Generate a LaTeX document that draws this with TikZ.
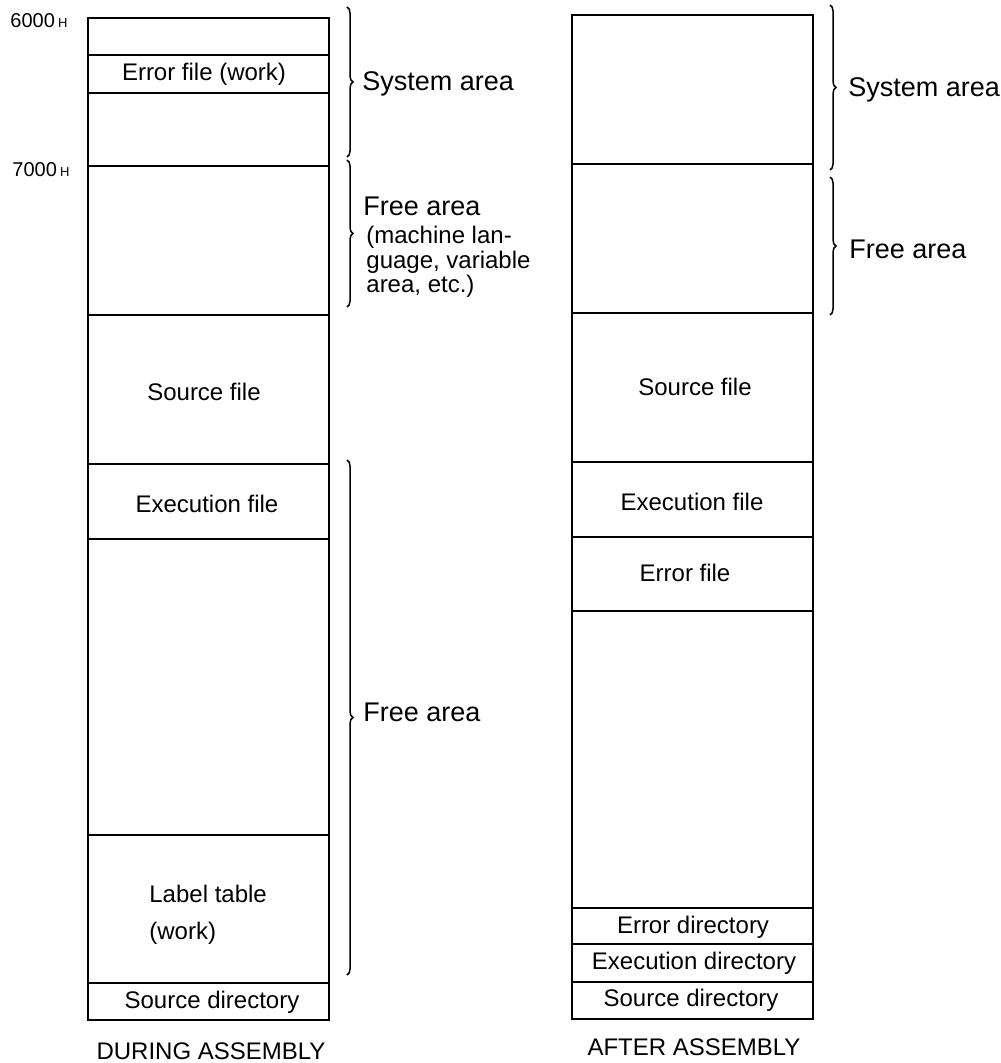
\documentclass[tikz,border=0pt]{standalone}
\usepackage{fontspec}
\setmainfont{Liberation Sans}
\usetikzlibrary{decorations.pathreplacing}
\begin{document}
\begin{tikzpicture}[x=0.5pt,y=-0.5pt,
  wall/.style={line width=0.75pt},
  lbl/.style={font=\fontsize{12}{14}\selectfont, inner sep=0pt},
  area/.style={font=\fontsize{13.5}{16}\selectfont, anchor=west, inner sep=0pt},
  note/.style={font=\fontsize{12}{10.5}\selectfont, anchor=west, align=left, inner sep=0pt},
  addr/.style={font=\fontsize{10}{12}\selectfont, anchor=base west, inner sep=0pt},
  curly/.style={decorate, decoration={brace, amplitude=3pt}, line width=0.75pt},
]
\useasboundingbox (0,0) rectangle (1000,1063);

% ---- memory map during assembly ----
\draw[wall] (88,18) rectangle (329,1020);
\foreach \y in {55,93,166,315,464,539,835,983}
  \draw[wall] (88,\y) -- (329,\y);

\node[addr] (a6000) at (10,28) {6000\,{\fontsize{6.5}{7}\selectfont H}};
\node[addr] (a7000) at (12,177) {7000\,{\fontsize{6.5}{7}\selectfont H}};

\node[lbl] (errw)  at (204,74)  {Error file (work)};
\node[lbl] (srcL)  at (204,392) {Source file};
\node[lbl] (exeL)  at (207,504) {Execution file};
\node[lbl, anchor=west, align=left, font=\fontsize{12}{18.5}\selectfont]
      (labt) at (149,915) {Label table\\(work)};
\node[lbl] (sdirL) at (212,1002) {Source directory};
\node[lbl] (during) at (211,1051) {DURING ASSEMBLY};

% braces on the left map
\coordinate (b1t) at (347,7);   \coordinate (b1b) at (347,157);
\coordinate (b2t) at (347,160); \coordinate (b2b) at (347,307);
\coordinate (b3t) at (347,460); \coordinate (b3b) at (347,975);
\draw[curly] (b1t) -- (b1b);
\draw[curly] (b2t) -- (b2b);
\draw[curly] (b3t) -- (b3b);

\node[area] (sysL)  at (362,84)  {System area};
\node[area] (freeL) at (363,206) {Free area};
\node[note] (freeN) at (366,262) {(machine lan-\\guage, variable\\area, etc.)};
\node[area] (free2) at (363,712) {Free area};

% ---- memory map after assembly ----
\draw[wall] (572,15) rectangle (813,1019);
\foreach \y in {164,313,462,537,611,908,944,982}
  \draw[wall] (572,\y) -- (813,\y);

\node[lbl] (srcR)  at (695,387) {Source file};
\node[lbl] (exeR)  at (692,502) {Execution file};
\node[lbl] (errR)  at (685,573) {Error file};
\node[lbl] (edir)  at (693,927) {Error directory};
\node[lbl] (xdir)  at (694,963) {Execution directory};
\node[lbl] (sdirR) at (691,1000) {Source directory};
\node[lbl] (after) at (694,1047) {AFTER ASSEMBLY};

% braces on the right map
\coordinate (c1t) at (830,5);   \coordinate (c1b) at (830,170);
\coordinate (c2t) at (830,177); \coordinate (c2b) at (830,315);
\draw[curly] (c1t) -- (c1b);
\draw[curly] (c2t) -- (c2b);

\node[area] (sysR)  at (848,90)  {System area};
\node[area] (freeR) at (849,249) {Free area};
\end{tikzpicture}
\end{document}
